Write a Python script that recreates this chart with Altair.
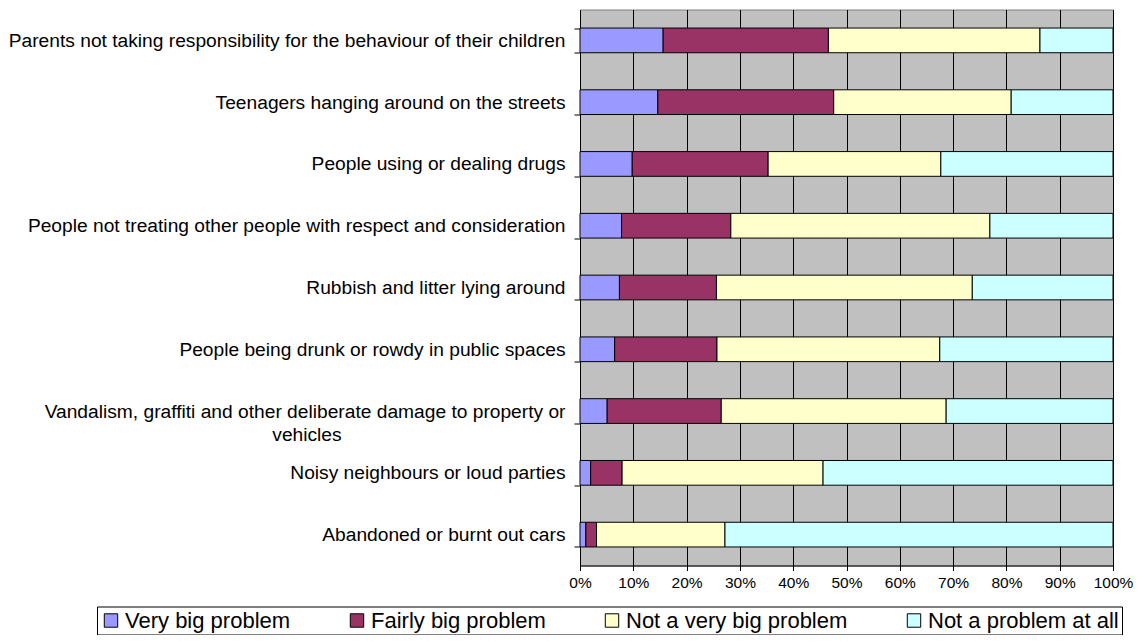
import altair as alt
import pandas as pd

categories = [
    "Parents not taking responsibility for the behaviour of their children",
    "Teenagers hanging around on the streets",
    "People using or dealing drugs",
    "People not treating other people with respect and consideration",
    "Rubbish and litter lying around",
    "People being drunk or rowdy in public spaces",
    "Vandalism, graffiti and other deliberate damage to property or|vehicles",
    "Noisy neighbours or loud parties",
    "Abandoned or burnt out cars",
]
series = ["Very big problem", "Fairly big problem", "Not a very big problem", "Not a problem at all"]
very_big = [15.6, 14.6, 9.8, 7.8, 7.4, 6.5, 5.1, 2.0, 1.1]
fairly_big = [31.0, 33.0, 25.5, 20.5, 18.2, 19.2, 21.4, 5.9, 2.0]
not_very_big = [39.7, 33.3, 32.4, 48.6, 48.0, 41.8, 42.2, 37.7, 24.1]
not_at_all = [13.7, 19.1, 32.3, 23.1, 26.4, 32.5, 31.3, 54.4, 72.8]
colors = ["#9999FF", "#993366", "#FFFFCC", "#CCFFFF"]
tick_values = [0, 0.1, 0.2, 0.3, 0.4, 0.5, 0.6, 0.7, 0.8, 0.9, 1.0]

# second line of the wrapped label is centred under the first:
# pad it with no-break spaces, closed by a zero-width space so they are kept
pad = "\u00a0" * 42 + "\u200b"
cats_disp = [c + pad if "|" in c else c for c in categories]

vals = [very_big, fairly_big, not_very_big, not_at_all]
rows = []
for i, c in enumerate(cats_disp):
    for j, s in enumerate(series):
        rows.append({"cat": c, "series": s, "order": j, "value": vals[j][i]})
df = pd.DataFrame(rows)

FONT = "Liberation Sans"

chart = alt.Chart(df).mark_bar(stroke="black", strokeWidth=1).encode(
    y=alt.Y(
        "cat:N", sort=cats_disp, title=None,
        scale=alt.Scale(paddingInner=0.6, paddingOuter=0.3),
        axis=alt.Axis(
            labelExpr="split(datum.label, '|')", tickBand="extent",
            labelFont=FONT, labelFontSize=19.2, labelColor="black",
            tickColor="black", domainColor="black", tickSize=6,
            labelPadding=9, labelLimit=1000, grid=False, labelLineHeight=23,
        ),
    ),
    x=alt.X(
        "value:Q", stack="normalize", title=None,
        scale=alt.Scale(domain=[0, 1], nice=False),
        axis=alt.Axis(
            format=".0%", values=tick_values, grid=True, gridColor="black",
            gridOpacity=1, gridWidth=1, tickSize=5, tickColor="black",
            domainColor="black", labelFont=FONT, labelFontSize=15.5,
            labelColor="black", labelPadding=5, labelOverlap=False,
            labelFlush=False,
        ),
    ),
    color=alt.Color(
        "series:N", sort=series,
        scale=alt.Scale(domain=series, range=colors),
        legend=alt.Legend(
            orient="none", legendX=-483, legendY=597, direction="horizontal",
            columns=4, columnPadding=55, symbolType="square", symbolSize=180,
            symbolStrokeColor="black", symbolStrokeWidth=1, labelFont=FONT,
            labelFontSize=22, labelColor="black", strokeColor="black",
            padding=3, title=None, labelOffset=3, labelLimit=1000,
        ),
    ),
    order=alt.Order("order:Q"),
).properties(
    width=533, height=556,
    autosize=alt.AutoSizeParams(type="none"),
    padding={"left": 572, "top": 1.5, "right": 20, "bottom": 69},
).configure_view(
    fill="#C0C0C0", stroke="#808080", strokeWidth=1,
)

chart.save("out.html", embed_options={"renderer": "svg", "actions": False})
